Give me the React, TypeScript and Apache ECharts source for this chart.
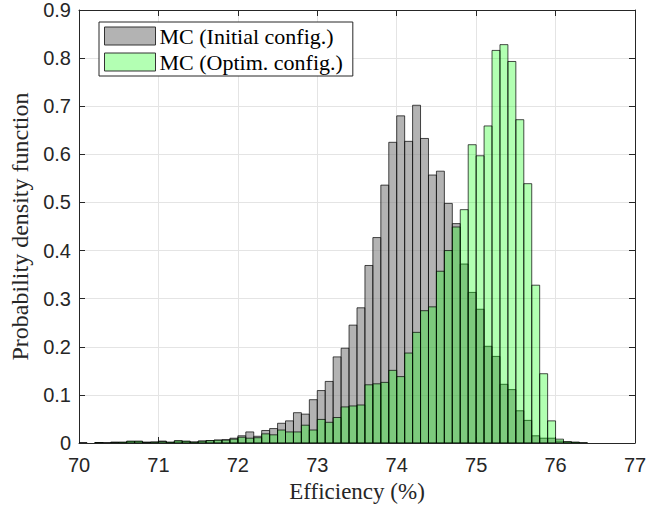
import React, { useEffect, useRef } from "react";
import * as echarts from "echarts";

// Histogram bins: width 0.1, first bin starts at 70.0
const FIRST_BIN = 70;
const BIN_WIDTH = 0.1;

const seriesNames = ["MC (Initial config.)", "MC (Optim. config.)"];

// PDF values per bin (70.0 ... 76.9)
const initialPdf = [
  0.001, 0.000, 0.001, 0.001, 0.002, 0.001, 0.003, 0.003, 0.002, 0.002,
  0.004, 0.001, 0.004, 0.003, 0.002, 0.004, 0.005, 0.006, 0.007, 0.010,
  0.015, 0.023, 0.014, 0.026, 0.030, 0.041, 0.046, 0.063, 0.060, 0.090,
  0.109, 0.128, 0.179, 0.197, 0.245, 0.281, 0.369, 0.427, 0.536, 0.625,
  0.680, 0.627, 0.702, 0.633, 0.557, 0.565, 0.498, 0.456, 0.372, 0.313,
  0.278, 0.201, 0.180, 0.122, 0.111, 0.067, 0.047, 0.015, 0.010, 0.010,
  0.004, 0.002, 0.001, 0.000, 0.000, 0.000, 0.000, 0.000, 0.000, 0.000,
];

const optimPdf = [
  0.000, 0.000, 0.001, 0.000, 0.001, 0.002, 0.004, 0.004, 0.001, 0.002,
  0.003, 0.002, 0.005, 0.004, 0.002, 0.004, 0.005, 0.006, 0.006, 0.008,
  0.012, 0.010, 0.011, 0.019, 0.017, 0.027, 0.023, 0.023, 0.037, 0.027,
  0.049, 0.043, 0.053, 0.075, 0.077, 0.079, 0.121, 0.123, 0.126, 0.151,
  0.138, 0.187, 0.230, 0.275, 0.283, 0.357, 0.400, 0.449, 0.485, 0.620,
  0.597, 0.659, 0.816, 0.828, 0.793, 0.672, 0.539, 0.328, 0.144, 0.046,
  0.008, 0.003, 0.002, 0.001, 0.000, 0.000, 0.000, 0.000, 0.000, 0.000,
];

const xTicks = [70, 71, 72, 73, 74, 75, 76, 77];
const yTickLabels = ["0", "0.1", "0.2", "0.3", "0.4", "0.5", "0.6", "0.7", "0.8", "0.9"];

const toBins = (vals: number[]) =>
  vals.map((v, i) => {
    const s = Math.round((FIRST_BIN + i * BIN_WIDTH) * 10) / 10;
    return [s, Math.round((s + BIN_WIDTH) * 10) / 10, v];
  });

const AXIS_COLOR = "#262626";
const GRID_COLOR = "#e4e4e4";
const SANS = "Liberation Sans, Arial, sans-serif";
const SERIF = "Liberation Serif, Times New Roman, serif";

function makeRender(fill: string) {
  return (params: any, api: any) => {
    const x0 = api.value(0);
    const x1 = api.value(1);
    const y = api.value(2);
    if (!y) return null;
    const p0 = api.coord([x0, y]);
    const p1 = api.coord([x1, 0]);
    return {
      type: "rect",
      shape: { x: p0[0], y: p0[1], width: p1[0] - p0[0], height: p1[1] - p0[1] },
      style: { fill, stroke: "rgba(0,0,0,0.7)", lineWidth: 1 },
    };
  };
}

export default function App() {
  const ref = useRef<HTMLDivElement>(null);
  useEffect(() => {
    document.body.style.margin = "0";
    if (!ref.current) return;
    const chart = echarts.init(ref.current, undefined, { renderer: "svg" });
    const axisCommon = {
      type: "value" as const,
      axisLine: { show: true, onZero: false, lineStyle: { color: AXIS_COLOR, width: 1 } },
      axisTick: { show: true, inside: true, length: 6, lineStyle: { color: AXIS_COLOR } },
    };
    chart.setOption({
      animation: false,
      backgroundColor: "#ffffff",
      grid: { left: 79, right: 33, top: 10, bottom: 65, containLabel: false },
      xAxis: [
        {
          ...axisCommon,
          position: "bottom",
          min: xTicks[0],
          max: xTicks[xTicks.length - 1],
          interval: 1,
          axisLabel: { show: true, color: AXIS_COLOR, fontFamily: SANS, fontSize: 20, margin: 12 },
          splitLine: { show: true, lineStyle: { color: GRID_COLOR, width: 1 } },
          name: "Efficiency (%)",
          nameLocation: "middle",
          nameGap: 37,
          nameTextStyle: { color: AXIS_COLOR, fontFamily: SERIF, fontSize: 23 },
        },
        {
          ...axisCommon,
          position: "top",
          min: xTicks[0],
          max: xTicks[xTicks.length - 1],
          interval: 1,
          axisLabel: { show: false },
          splitLine: { show: false },
        },
      ],
      yAxis: [
        {
          ...axisCommon,
          position: "left",
          min: 0,
          max: 0.9,
          interval: 0.1,
          axisLabel: {
            show: true,
            color: AXIS_COLOR,
            fontFamily: SANS,
            fontSize: 20,
            margin: 8,
            formatter: (v: number) => yTickLabels[Math.round(v * 10)] ?? "",
          },
          splitLine: { show: true, lineStyle: { color: GRID_COLOR, width: 1 } },
          name: "Probability density function",
          nameLocation: "middle",
          nameGap: 43,
          nameTextStyle: { color: AXIS_COLOR, fontFamily: SERIF, fontSize: 24 },
        },
        {
          ...axisCommon,
          position: "right",
          min: 0,
          max: 0.9,
          interval: 0.1,
          axisLabel: { show: false },
          splitLine: { show: false },
        },
      ],
      legend: {
        orient: "vertical",
        left: 99,
        top: 22,
        padding: [3, 10, 3, 5],
        itemGap: 4,
        itemWidth: 51,
        itemHeight: 18,
        backgroundColor: "#ffffff",
        borderColor: AXIS_COLOR,
        borderWidth: 1,
        borderRadius: 0,
        textStyle: { color: "#000", fontFamily: SERIF, fontSize: 22, padding: [0, 0, 0, -1] },
        data: [
          { name: seriesNames[0], icon: "rect", itemStyle: { color: "#b3b3b3", borderColor: "#333", borderWidth: 1 } },
          { name: seriesNames[1], icon: "rect", itemStyle: { color: "#b3ffb3", borderColor: "#333", borderWidth: 1 } },
        ],
      },
      series: [
        {
          name: seriesNames[0],
          type: "custom",
          clip: true,
          renderItem: makeRender("rgba(128,128,128,0.6)"),
          itemStyle: { color: "#b3b3b3" },
          encode: { x: [0, 1], y: 2 },
          data: toBins(initialPdf),
        },
        {
          name: seriesNames[1],
          type: "custom",
          clip: true,
          renderItem: makeRender("rgba(0,255,0,0.3)"),
          itemStyle: { color: "#b3ffb3" },
          encode: { x: [0, 1], y: 2 },
          data: toBins(optimPdf),
        },
      ],
    });
    return () => chart.dispose();
  }, []);
  return <div ref={ref} style={{ width: 668, height: 508 }} />;
}
